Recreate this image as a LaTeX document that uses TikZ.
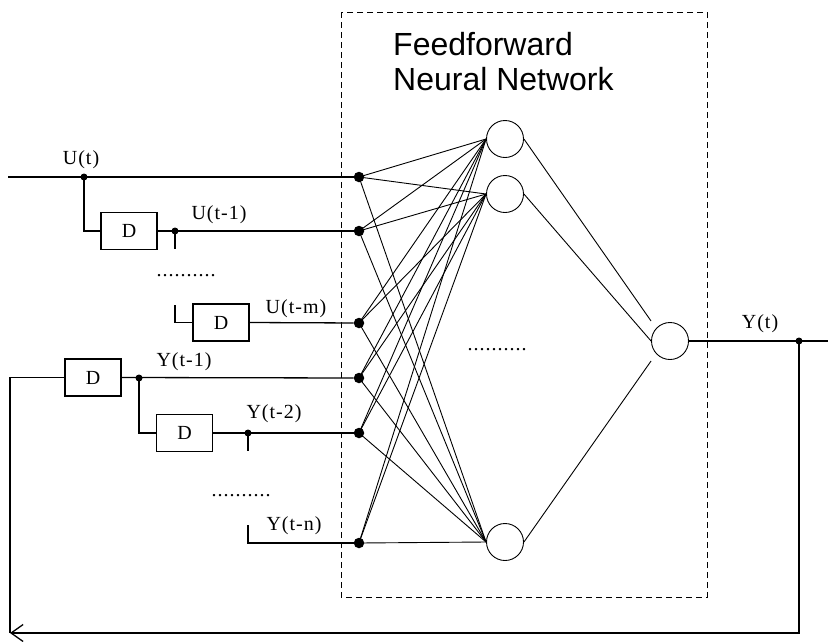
\documentclass[tikz,border=0pt]{standalone}
\usepackage{fontspec}
\usepackage{tikz}
\usetikzlibrary{arrows.meta}
\newfontfamily\lblfont[LetterSpace=5]{Liberation Serif}
\newfontfamily\ttlfont{Liberation Sans}

\begin{document}
\begin{tikzpicture}[x=1pt,y=-1pt,
  wire/.style={line width=1.3pt},
  conn/.style={line width=0.9pt},
  bigdot/.style={circle,fill,inner sep=0pt,minimum size=10.5pt},
  smalldot/.style={circle,fill,inner sep=0pt,minimum size=7pt},
  delaybox/.style={draw,line width=1.1pt,minimum width=56pt,minimum height=37pt,inner sep=0pt,font=\lblfont\fontsize{20}{22}\selectfont},
  neuron/.style={draw,circle,line width=0.9pt,minimum size=37pt,inner sep=0pt},
  lbl/.style={font=\lblfont\fontsize{20}{22}\selectfont,inner sep=0pt}]
\useasboundingbox (0,0) rectangle (828,641);

% network frame
\draw[line width=0.9pt,dash pattern=on 6pt off 4pt] (341,12) rectangle (707,597);
\node[anchor=north west,align=left,inner sep=0pt,font=\ttlfont\fontsize{32}{35}\selectfont] (title) at (393,32) {Feedforward\\Neural Network};

% input layer
\node[bigdot] (u0) at (359,177) {};
\node[bigdot] (u1) at (359,231) {};
\node[bigdot] (um) at (359,323) {};
\node[bigdot] (y1) at (359,378) {};
\node[bigdot] (y2) at (359,433) {};
\node[bigdot] (yn) at (359,543) {};

% hidden layer
\node[neuron] (h1) at (505,139) {};
\node[neuron] (h2) at (505,194) {};
\node[neuron] (hn) at (505,542) {};
\node[lbl] (hdots) at (497,350) {..........};

% output layer
\node[neuron] (out) at (670,341) {};

% input -> hidden
\foreach \i in {u0,u1,um,y1,y2,yn}
  \foreach \h in {h1,h2,hn}
    \draw[conn] (\i.center) -- (\h.west);

% hidden -> output
\draw[conn] (h1.east) -- ([yshift=20pt]out.west);
\draw[conn] (h2.east) -- (out.west);
\draw[conn] (hn.east) -- ([yshift=-20pt]out.west);

% U taps
\coordinate (uin) at (8,177);
\draw[wire] (uin) -- (u0);
\node[smalldot] (ub) at (84,177) {};
\node[lbl] (lu0) at (81,160) {U(t)};
\node[delaybox] (d1) at (129,231) {D};
\draw[wire] (ub.center) |- (d1.west);
\draw[wire] (d1.east) -- (u1);
\node[smalldot] (ut1) at (175,231) {};
\coordinate (ut1s) at (175,249);
\draw[wire] (ut1.center) -- (ut1s);
\node[lbl] (lu1) at (219,215) {U(t-1)};
\node[lbl] (udots) at (186,276) {..........};

\coordinate (umst) at (175,305);
\node[delaybox] (d2) at (221,322.5) {D};
\draw[wire] (umst) |- (d2.west);
\draw[wire] (d2.east) -- (um);
\node[lbl] (lum) at (296,309) {U(t-m)};

% Y taps
\node[delaybox] (d3) at (93,377.5) {D};
\node[smalldot] (yb) at (139,378) {};
\draw[wire] (d3.east) -- (y1);
\node[lbl] (ly1) at (184,362) {Y(t-1)};
\node[delaybox] (d4) at (184.5,433) {D};
\draw[wire] (yb.center) |- (d4.west);
\draw[wire] (d4.east) -- (y2);
\node[smalldot] (yt2) at (248,433) {};
\coordinate (yt2s) at (248,451);
\draw[wire] (yt2.center) -- (yt2s);
\node[lbl] (ly2) at (274,414) {Y(t-2)};
\node[lbl] (ydots) at (241,496) {..........};

\coordinate (ynst) at (248,525);
\draw[wire] (ynst) |- (yn);
\node[lbl] (lyn) at (294,526) {Y(t-n)};

% output and feedback
\coordinate (yend) at (828,341);
\draw[wire] (out.east) -- (yend);
\node[smalldot] (yo) at (799,341) {};
\node[lbl] (lyo) at (760,324) {Y(t)};
\coordinate (fb) at (10,633);
\draw[wire,-{Straight Barb[length=12pt,width=17pt]}] (yo.center) |- (fb);
\draw[wire] (fb) |- (d3.west);
\end{tikzpicture}
\end{document}
